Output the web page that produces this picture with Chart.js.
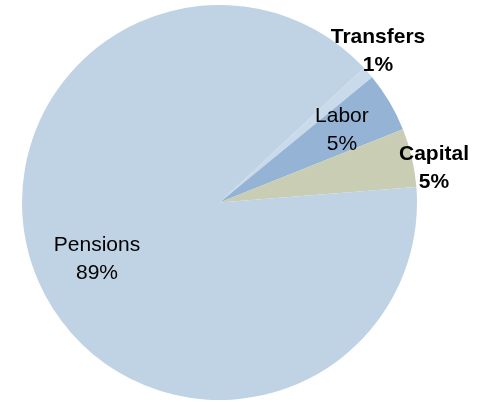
<!DOCTYPE html>
<html>
<head>
<meta charset="utf-8">
<title>Income sources</title>
<script src="https://cdn.jsdelivr.net/npm/chart.js@4/dist/chart.umd.min.js"></script>
<style>
    html, body { margin: 0; padding: 0; background: #ffffff; }
    #wrap { position: relative; width: 484px; height: 402px; }
</style>
</head>
<body>
<div id="wrap"><canvas id="pieChart"></canvas></div>
<script>
// slice order follows the picture, clockwise from the Transfers edge
const categories = ['Transfers', 'Labor', 'Capital', 'Pensions'];
const shares = [1.0, 4.9, 4.8, 89.3];

const sliceColors = ['#c9dbea', '#95b4d5', '#c9cdb4', '#bfd3e5'];
// where each label sits: radius as a fraction of the pie, nudge in degrees
const labelRadius = [1.11, 0.72, 1.10, 0.683];
const labelNudge = [-2.5, 0, 4, -1];
const labelWeight = ['bold', 'normal', 'bold', 'normal'];

function PercentText(value, total) {
    return Math.round(value / total * 100) + '%';
}

const sliceLabels = {
    id: 'sliceLabels',
    afterDatasetsDraw(chart) {
        const ctx = chart.ctx;
        const meta = chart.getDatasetMeta(0);
        const values = chart.data.datasets[0].data;
        const total = values.reduce((a, b) => a + b, 0);

        ctx.save();
        ctx.fillStyle = '#000000';
        ctx.textAlign = 'center';
        ctx.textBaseline = 'middle';
        meta.data.forEach((arc, i) => {
            const p = arc.getProps(['x', 'y', 'startAngle', 'endAngle', 'outerRadius'], true);
            const mid = (p.startAngle + p.endAngle) / 2 + labelNudge[i] * Math.PI / 180;
            const r = p.outerRadius * labelRadius[i];
            const cx = p.x + Math.cos(mid) * r;
            const cy = p.y + Math.sin(mid) * r;
            ctx.font = labelWeight[i] + ' 21px "Liberation Sans", Arial, sans-serif';
            ctx.fillText(chart.data.labels[i], cx, cy - 14);
            ctx.fillText(PercentText(values[i], total), cx, cy + 14);
        });
        ctx.restore();
    }
};

const context = document.getElementById('pieChart').getContext('2d');

const pieChart = new Chart(context, {
    type: 'pie',
    data: {
        labels: categories,
        datasets: [
            {
                data: shares,
                backgroundColor: sliceColors,
                borderWidth: 0
            }
        ]
    },
    options: {
        responsive: true,
        maintainAspectRatio: false,
        animation: false,
        rotation: 47,
        layout: {
            padding: { top: 5, bottom: 2, left: 22, right: 67 }
        },
        plugins: {
            legend: { display: false },
            tooltip: { enabled: false }
        }
    },
    plugins: [sliceLabels]
});
</script>
</body>
</html>
